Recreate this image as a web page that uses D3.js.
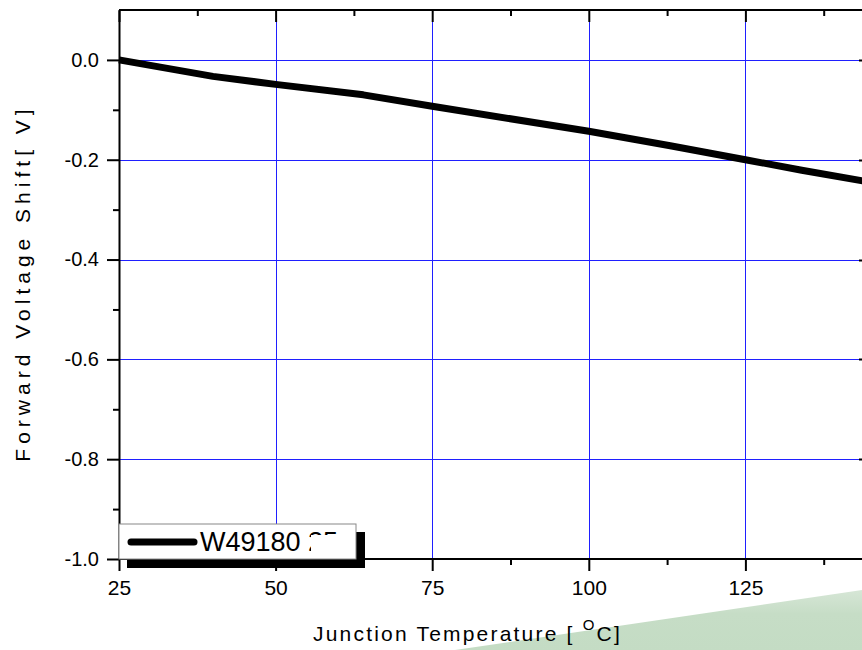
<!DOCTYPE html>
<html>
<head>
<meta charset="utf-8">
<script src="https://cdn.jsdelivr.net/npm/d3@7"></script>
<style>
html,body{margin:0;padding:0;background:#fff;overflow:hidden;}
svg{display:block;}
text{font-family:"Liberation Sans",Arial,sans-serif;fill:#000;}
</style>
</head>
<body>
<svg id="chart" width="862" height="650"></svg>
<script>
// ---- data ----
const temperatures = [25, 40, 50, 64, 75, 100, 113, 125, 134, 150];
const voltageShift = [0, -0.033, -0.049, -0.070, -0.093, -0.143, -0.172, -0.200, -0.221, -0.256];
const xMajorTicks = [25, 50, 75, 100, 125];
const xMinorTicks = [37.5, 62.5, 87.5, 112.5, 137.5];
const yMajorTicks = [-1.0, -0.8, -0.6, -0.4, -0.2, 0.0];
const yMinorTicks = [-0.9, -0.7, -0.5, -0.3, -0.1];
const xGridValues = [50, 75, 100, 125];
const yGridValues = [-0.8, -0.6, -0.4, -0.2, 0.0];
const seriesName = "W49180 25";

const svg = d3.select("#chart");
const x = d3.scaleLinear().domain([25, 150]).range([119, 902]);
const y = d3.scaleLinear().domain([-1.0, 0.1]).range([559, 10]);

// background decoration (green shape, lower right)
const defs = svg.append("defs");
const grad = defs.append("linearGradient").attr("id", "gr")
  .attr("x1", "0").attr("y1", "0").attr("x2", "0").attr("y2", "1");
grad.append("stop").attr("offset", "0").attr("stop-color", "rgb(214,230,214)");
grad.append("stop").attr("offset", "0.4").attr("stop-color", "rgb(198,221,198)");
grad.append("stop").attr("offset", "1").attr("stop-color", "rgb(196,220,196)");
svg.append("polygon")
  .attr("points", "455,650 862,590 862,650")
  .attr("fill", "url(#gr)");

// grid
svg.append("g").selectAll("line").data(xGridValues).join("line")
  .attr("x1", d => Math.round(x(d)) + 0.5).attr("x2", d => Math.round(x(d)) + 0.5)
  .attr("y1", y(0.1)).attr("y2", y(-1.0))
  .attr("stroke", "#1f1fff").attr("stroke-width", 1);
svg.append("g").selectAll("line").data(yGridValues).join("line")
  .attr("x1", x(25)).attr("x2", 860)
  .attr("y1", d => Math.round(y(d)) + 0.5).attr("y2", d => Math.round(y(d)) + 0.5)
  .attr("stroke", "#1f1fff").attr("stroke-width", 1);
// small dark ends at the right edge
svg.append("g").selectAll("line").data(yGridValues).join("line")
  .attr("x1", 859).attr("x2", 862)
  .attr("y1", d => Math.round(y(d)) + 0.5).attr("y2", d => Math.round(y(d)) + 0.5)
  .attr("stroke", "#000").attr("stroke-width", 2);

function styleAxis(g) {
  g.selectAll(".domain").attr("stroke", "#000").attr("stroke-width", 2);
  g.selectAll(".tick line").attr("stroke", "#000").attr("stroke-width", 2);
  g.selectAll("text").attr("font-family", "Liberation Sans, Arial, sans-serif").attr("fill", "#000");
}

// bottom axis
const gb = svg.append("g").attr("transform", `translate(0,${y(-1.0)})`)
  .call(d3.axisBottom(x).tickValues(xMajorTicks).tickSize(12).tickPadding(9).tickSizeOuter(0)
        .tickFormat(d3.format("d")));
gb.select(".domain").attr("d", `M${x(25)},0H${x(150)}`);
gb.selectAll("text").attr("font-size", 21);
styleAxis(gb);
const gbm = svg.append("g").attr("transform", `translate(0,${y(-1.0)})`)
  .call(d3.axisBottom(x).tickValues(xMinorTicks).tickSize(6).tickFormat("").tickSizeOuter(0));
gbm.select(".domain").remove();
styleAxis(gbm);

// top axis (ticks inward)
const gt = svg.append("g").attr("transform", `translate(0,${y(0.1)})`)
  .call(d3.axisTop(x).tickValues(xMajorTicks).tickSize(-12).tickFormat("").tickSizeOuter(0));
gt.select(".domain").attr("d", `M${x(25)},0H${x(150)}`);
styleAxis(gt);
const gtm = svg.append("g").attr("transform", `translate(0,${y(0.1)})`)
  .call(d3.axisTop(x).tickValues(xMinorTicks).tickSize(-6).tickFormat("").tickSizeOuter(0));
gtm.select(".domain").remove();
styleAxis(gtm);

// left axis
const gl = svg.append("g").attr("transform", `translate(${x(25)},0)`)
  .call(d3.axisLeft(y).tickValues(yMajorTicks).tickSize(12).tickPadding(8).tickSizeOuter(0)
        .tickFormat(d3.format(".1f")));
gl.selectAll("text").attr("font-size", 20).text(d => d3.format(".1f")(d).replace("−", "-"));
styleAxis(gl);
const glm = svg.append("g").attr("transform", `translate(${x(25)},0)`)
  .call(d3.axisLeft(y).tickValues(yMinorTicks).tickSize(6).tickFormat("").tickSizeOuter(0));
glm.select(".domain").remove();
styleAxis(glm);

// series line
const pts = temperatures.map((t, i) => [t, voltageShift[i]]);
svg.append("path")
  .datum(pts)
  .attr("fill", "none")
  .attr("stroke", "#000")
  .attr("stroke-width", 7)
  .attr("stroke-linejoin", "round")
  .attr("d", d3.line().x(d => x(d[0])).y(d => y(d[1])));

// legend
const lg = svg.append("g");
lg.append("rect").attr("x", 127).attr("y", 532).attr("width", 238).attr("height", 36).attr("fill", "#000");
lg.append("rect").attr("x", 119).attr("y", 524).attr("width", 237).attr("height", 35)
  .attr("fill", "#fff").attr("stroke", "#888").attr("stroke-width", 1);
lg.append("line").attr("x1", 131).attr("x2", 194).attr("y1", 542).attr("y2", 542)
  .attr("stroke", "#000").attr("stroke-width", 7).attr("stroke-linecap", "round");
lg.append("text").attr("x", 200).attr("y", 551).attr("font-size", 27).text(seriesName);
lg.append("rect").attr("x", 311).attr("y", 535).attr("width", 44).attr("height", 23).attr("fill", "#fff");

// axis titles
const xt = svg.append("text").attr("x", 313).attr("y", 641).attr("font-size", 21)
  .attr("letter-spacing", "2.2px");
xt.append("tspan").text("Junction Temperature [ ");
xt.append("tspan").attr("font-size", 15).attr("dy", -11).text("O");
xt.append("tspan").attr("dy", 11).text("C]");

svg.append("text")
  .attr("transform", "translate(30,283) rotate(-90)")
  .attr("text-anchor", "middle")
  .attr("font-size", 21)
  .attr("letter-spacing", "5px")
  .text("Forward Voltage Shift[ V]");
</script>
</body>
</html>
